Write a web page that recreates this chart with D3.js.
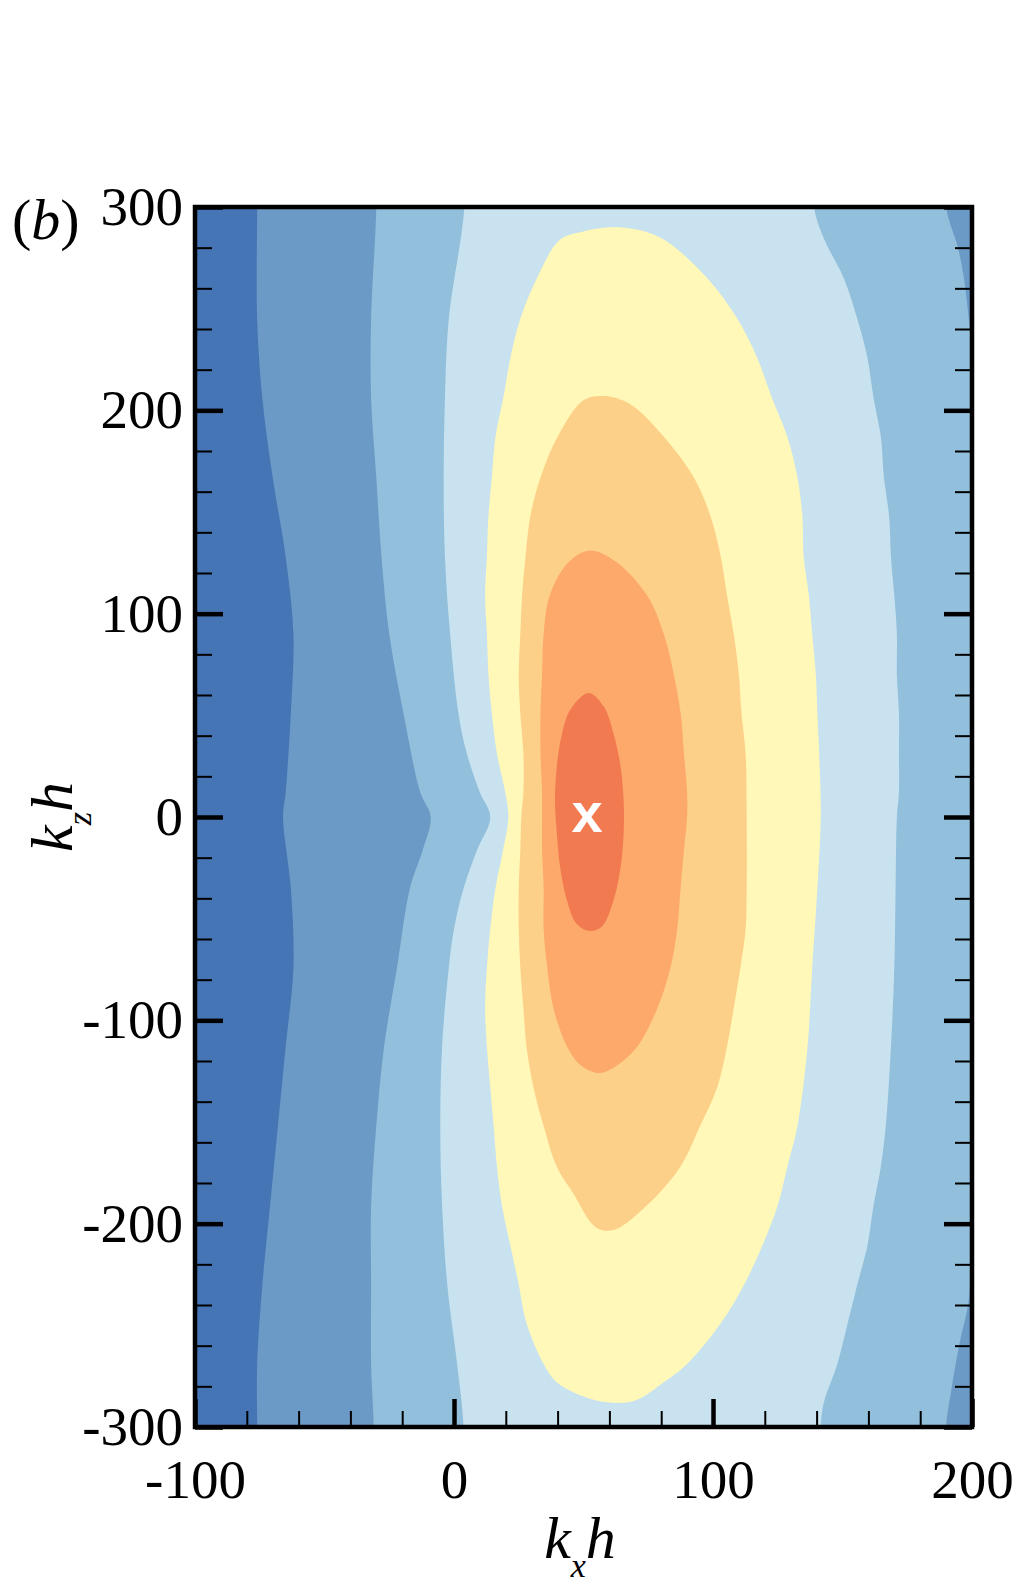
<!DOCTYPE html>
<html><head><meta charset="utf-8">
<script src="https://cdn.jsdelivr.net/npm/d3@7"></script>
<style>body{margin:0;background:#fff} svg{display:block}</style>
</head><body>
<svg id="chart" width="1024" height="1587"></svg>
<script>
// ---- colour levels (outer -> inner) ----
const levelColors = ["#4575b4","#6b9ac6","#92bfdb","#c8e2ef","#fff8b8","#fdd089","#fca96b","#f27a50"];

// ---- tick values ----
const kxMajorTicks = [-100, 0, 100, 200];
const kxMinorTicks = [-80,-60,-40,-20,20,40,60,80,120,140,160,180];
const kzMajorTicks = [-300,-200,-100,0,100,200,300];
const kzMinorTicks = [-280,-260,-240,-220,-180,-160,-140,-120,-80,-60,-40,-20,20,40,60,80,120,140,160,180,220,240,260,280];

// ---- contour boundaries: [kx h, kz h] ----
// level 1 (medium blue): left edge
const band1Left = [[-76,300],[-76,245],[-74,206],[-70,167],[-65,128],[-62,90],[-63,51],[-65,12],[-66,0],[-63,-35],[-62,-74],[-65,-113],[-68,-152],[-71,-191],[-74,-230],[-76,-269],[-76,-300]];
const band1Right = [[235,300],[235,-300]];
// level 2 (light-medium blue)
const band2Left = [[-30,300],[-32,245],[-32,206],[-30,167],[-28,128],[-25,90],[-19.5,51],[-13,12],[-9,0],[-12,-16],[-17,-35],[-22,-74],[-27,-113],[-30,-152],[-32,-191],[-32,-230],[-32,-269],[-31,-300]];
const band2Right = [[190,300],[194.6,280],[197,264],[198.5,248],[200,231],[204,205],[214,100],[217,0],[214,-100],[204,-205],[200,-222],[198.5,-240],[195,-260],[192,-282],[190,-300]];
// level 3 (pale blue)
const band3Left = [[4,300],[-2,245],[-3.5,206],[-4,167],[-3.5,128],[-1.5,90],[1.7,51],[5,31],[10,12],[14,0],[9,-16],[3.7,-35],[0,-55],[-2,-74],[-4.6,-113],[-5.3,-152],[-4.6,-191],[-2.6,-230],[1.2,-269],[3.7,-300]];
const band3Right = [[139,300],[143,284],[150.5,265],[155.7,245],[159.6,226],[162,206],[164.8,187],[166,167],[168,148],[168.7,128],[170,109],[171,90],[171,70],[171.8,51],[171.8,31],[171.8,12],[171,0],[170.5,-35],[170,-74],[168.7,-113],[166.7,-152],[164.8,-172],[162,-191],[159.6,-211],[155.7,-230],[152,-249],[148,-269],[142.8,-288],[141.6,-300]];
// level 4 (yellow), closed
const contour4 = [[60,290],[50,288],[41,284],[32,265],[25.6,245],[21.8,226],[19,206],[16,187],[14.6,167],[13.3,148],[12.7,128],[12,109],[12.7,90],[13.3,70],[14.6,51],[16.6,31],[19.8,12],[21,0],[19,-16],[16,-35],[14,-55],[12.7,-74],[12,-94],[12.7,-113],[14,-133],[15.3,-152],[16.6,-172],[18.5,-191],[21.8,-211],[25,-230],[28,-249],[34.6,-269],[39.7,-278],[50,-285],[60,-288],[70,-287],[81,-278],[90,-269],[103,-249],[112,-230],[119,-211],[125,-191],[128.7,-172],[132.6,-152],[136.5,-113],[138.3,-74],[140.3,-35],[141.6,0],[141,31],[140.3,51],[139.7,70],[138.3,90],[137,109],[135,128],[134.5,148],[132.6,167],[128.7,187],[122.8,206],[117,226],[109.4,245],[97.8,265],[81,284],[70,289]];
// level 5 (light orange), closed
const contour5 = [[58,207],[50,205],[40,187],[33.4,167],[29.5,148],[27.6,128],[26.3,109],[25.6,90],[25,70],[25.6,51],[26.8,31],[26.8,12],[26,0],[25.6,-16],[25,-35],[25,-55],[25.6,-74],[26.8,-94],[28,-113],[30.7,-133],[34.6,-152],[39.7,-172],[46,-185],[55,-202],[62,-203],[74.5,-191],[87.4,-172],[95,-152],[101.6,-133],[105.4,-113],[108,-94],[110.6,-74],[112.6,-55],[113,-35],[113,0],[112.6,31],[111,51],[110,70],[108,90],[105.4,109],[103,128],[99,148],[92.6,167],[81,187],[68,203]];
// level 6 (orange), closed
const contour6 = [[52,131],[44,125],[37,109],[34.6,90],[34,70],[33.4,51],[33.4,31],[34,12],[34,0],[34,-16],[34.6,-35],[34.6,-55],[36,-74],[38.4,-94],[43.7,-113],[48.8,-122],[56,-126],[62,-123],[70.7,-113],[78.5,-94],[83.6,-74],[86.2,-55],[87.5,-35],[88.8,-16],[90,0],[90,12],[88.8,31],[87.5,51],[84.9,70],[81,90],[74.5,109],[62,126]];
// level 7 (red), closed
const contour7 = [[52,61],[45,53],[41.7,41],[39.7,25],[39,8],[39.7,-8],[41,-25],[43.6,-41],[47,-52],[52,-56],[57,-54],[61.6,-41],[64.3,-25],[65.5,-8],[65.5,8],[64.3,25],[61.6,41],[58,54]];

// ---- marker ----
const peakPoint = [51.4, 0];

// ---- scales ----
const x = d3.scaleLinear().domain([-100, 200]).range([195, 972]);
const y = d3.scaleLinear().domain([-300, 300]).range([1427, 207]);

const svg = d3.select("#chart");
const FONT = "'Liberation Serif','Times New Roman',serif";

svg.append("defs").append("clipPath").attr("id","plotClip")
  .append("rect").attr("x", x(-100)).attr("y", y(300))
  .attr("width", x(200)-x(-100)).attr("height", y(-300)-y(300));

const plot = svg.append("g").attr("clip-path","url(#plotClip)");

const closedLine = d3.line().x(d => x(d[0])).y(d => y(d[1])).curve(d3.curveCatmullRomClosed.alpha(0.5));

function bandPolygon(left, right) {
  const L = [[left[0][0], 340], ...left, [left[left.length-1][0], -340]];
  const R = [[right[0][0], 340], ...right, [right[right.length-1][0], -340]].reverse();
  return L.concat(R);
}
const bandLine = d3.line().x(d => x(d[0])).y(d => y(d[1])).curve(d3.curveCatmullRom.alpha(0.5));
function bandPath(left, right) {
  const L = [[left[0][0], 340], ...left, [left[left.length-1][0], -340]];
  const R = [[right[0][0], 340], ...right, [right[right.length-1][0], -340]].reverse();
  return bandLine(L) + bandLine(R).replace(/^M/, "L") + "Z";
}

plot.append("rect").attr("x", x(-100)).attr("y", y(300))
  .attr("width", x(200)-x(-100)).attr("height", y(-300)-y(300))
  .attr("fill", levelColors[0]);

const bands = [[band1Left, band1Right], [band2Left, band2Right], [band3Left, band3Right]];
plot.selectAll("path.band").data(bands).join("path").attr("class","band")
  .attr("d", d => bandPath(d[0], d[1]))
  .attr("fill", (d,i) => levelColors[i+1]);

const contours = [contour4, contour5, contour6, contour7];
plot.selectAll("path.contour").data(contours).join("path").attr("class","contour")
  .attr("d", d => closedLine(d))
  .attr("fill", (d,i) => levelColors[i+4]);

// marker
plot.append("text").attr("x", x(peakPoint[0])).attr("y", y(peakPoint[1]) + 14.5)
  .attr("text-anchor","middle").attr("font-family","'Liberation Sans',Arial,sans-serif")
  .attr("font-weight","bold").attr("font-size", 56).attr("fill","#fff").text("x");

// ---- axes ----
function styleAxis(g, width) {
  g.select(".domain").remove();
  g.selectAll(".tick line").attr("stroke","#000").attr("stroke-width", width);
  g.selectAll(".tick text").attr("font-family", FONT).attr("font-size", 55).attr("fill","#000");
}
const fmt = d => String(d);

// bottom
svg.append("g").attr("transform", `translate(0,${y(-300)})`)
  .call(d3.axisBottom(x).tickValues(kxMinorTicks).tickSize(-16).tickFormat(""))
  .call(g => styleAxis(g, 2));
svg.append("g").attr("transform", `translate(0,${y(-300)})`)
  .call(d3.axisBottom(x).tickValues(kxMajorTicks).tickSize(-28).tickPadding(32).tickFormat(fmt))
  .call(g => styleAxis(g, 4.5));
// left
svg.append("g").attr("transform", `translate(${x(-100)},0)`)
  .call(d3.axisLeft(y).tickValues(kzMinorTicks).tickSize(-17).tickFormat(""))
  .call(g => styleAxis(g, 2));
svg.append("g").attr("transform", `translate(${x(-100)},0)`)
  .call(d3.axisLeft(y).tickValues(kzMajorTicks).tickSize(-28).tickPadding(12).tickFormat(fmt))
  .call(g => styleAxis(g, 4.5));
// right
svg.append("g").attr("transform", `translate(${x(200)},0)`)
  .call(d3.axisRight(y).tickValues(kzMinorTicks).tickSize(-17).tickFormat(""))
  .call(g => styleAxis(g, 2));
svg.append("g").attr("transform", `translate(${x(200)},0)`)
  .call(d3.axisRight(y).tickValues(kzMajorTicks).tickSize(-28).tickFormat(""))
  .call(g => styleAxis(g, 4.5));

// frame
svg.append("rect").attr("x", x(-100)).attr("y", y(300))
  .attr("width", x(200)-x(-100)).attr("height", y(-300)-y(300))
  .attr("fill","none").attr("stroke","#000").attr("stroke-width", 4.5);

// ---- titles ----
const xt = svg.append("text").attr("x", 580).attr("y", 1558).attr("text-anchor","middle")
  .attr("font-family", FONT).attr("font-size", 60).attr("font-style","italic");
xt.append("tspan").text("k");
xt.append("tspan").attr("font-size", 34).attr("dy", 19).text("x");
xt.append("tspan").attr("dy", -19).text("h");

const yt = svg.append("text").attr("transform", "translate(72,817) rotate(-90)").attr("text-anchor","middle")
  .attr("font-family", FONT).attr("font-size", 60).attr("font-style","italic");
yt.append("tspan").text("k");
yt.append("tspan").attr("font-size", 34).attr("dy", 19).text("z");
yt.append("tspan").attr("dy", -19).text("h");

const lab = svg.append("text").attr("x", 12).attr("y", 239)
  .attr("font-family", FONT).attr("font-size", 58);
lab.append("tspan").text("(");
lab.append("tspan").attr("font-style","italic").text("b");
lab.append("tspan").text(")");
</script>
</body></html>
